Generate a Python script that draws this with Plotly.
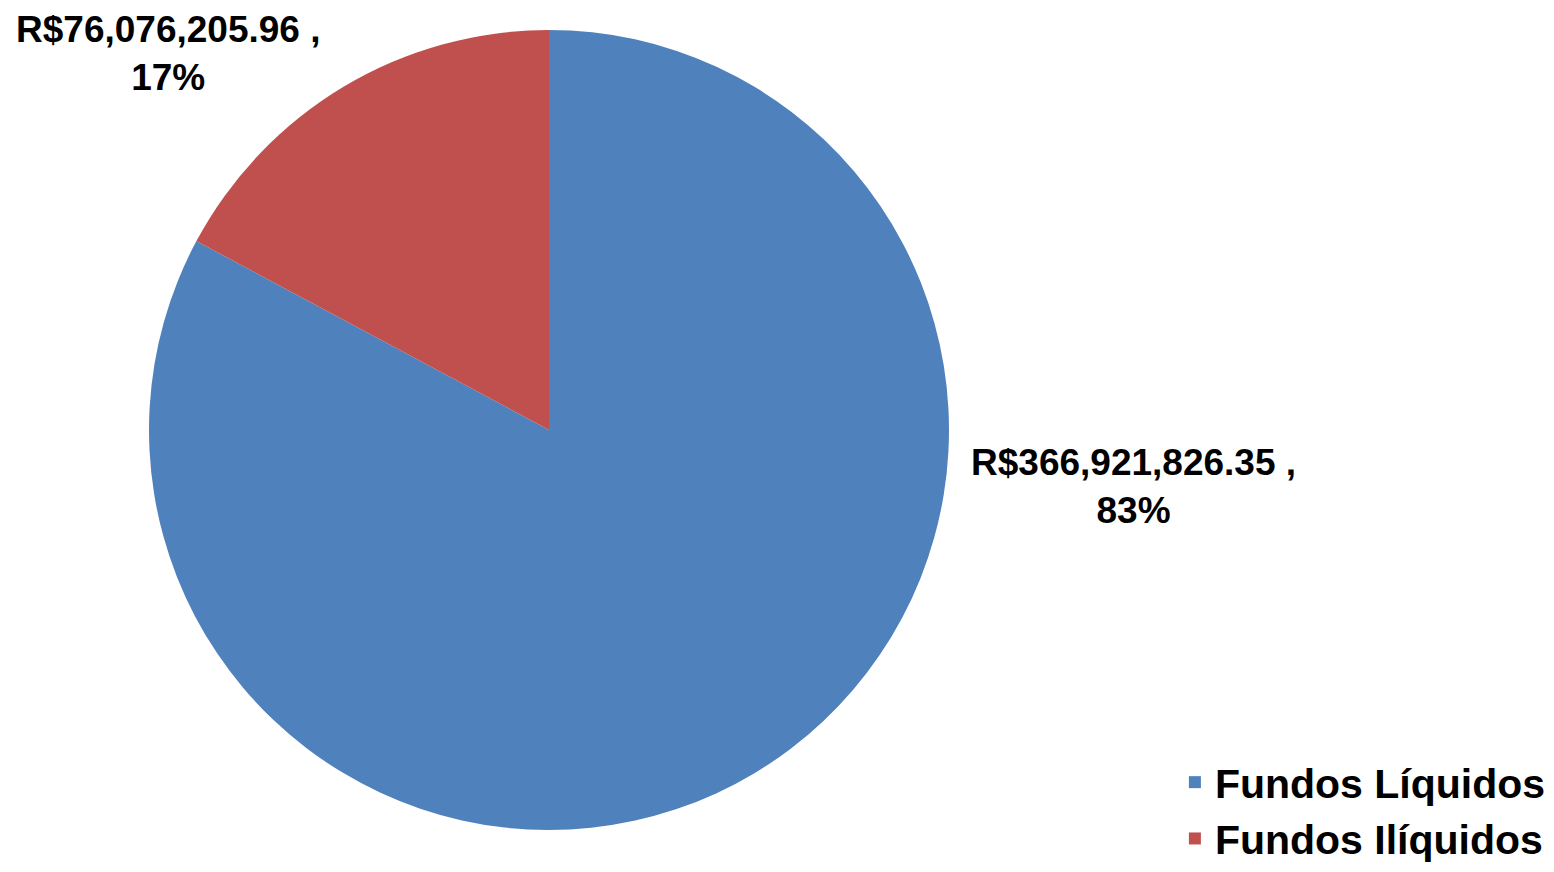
import plotly.graph_objects as go

labels = ["Fundos Líquidos", "Fundos Ilíquidos"]
values = [366921826.35, 76076205.96]
colors = ["#4F81BD", "#C0504D"]

W, H = 1554, 872
total = sum(values)
texts = [f"R${v:,.2f} ,<br>{round(100 * v / total):.0f}%" for v in values]

fig = go.Figure(go.Pie(
    labels=labels, values=values, sort=False, direction="clockwise", rotation=0,
    marker=dict(colors=colors, line=dict(width=0)),
    textinfo="none", hoverinfo="label+value+percent",
    domain=dict(x=[149 / W, 949 / W], y=[1 - 830 / H, 1 - 30 / H]),
))

# label positions (paper coords) in Excel-like placement
label_pos = [(1133 / W, 1 - 486 / H), (168 / W, 1 - 53 / H)]
for t, (x, y) in zip(texts, label_pos):
    fig.add_annotation(x=x, y=y, xref="paper", yref="paper", text=f"<b>{t}</b>",
                       showarrow=False, xanchor="center", yanchor="middle",
                       font=dict(family="Liberation Sans, Arial", size=37, color="#000000"))

fig.update_layout(
    width=W, height=H,
    margin=dict(l=0, r=0, t=0, b=0),
    paper_bgcolor="white", plot_bgcolor="white",
    showlegend=True,
    legend=dict(x=0.998, y=0.0, xanchor="right", yanchor="bottom",
                font=dict(family="Liberation Sans, Arial", size=41, color="#000000", weight="bold"),
                itemsizing="constant", tracegroupgap=0, bgcolor="rgba(0,0,0,0)"),
)
fig.write_html("out.html", config={"displayModeBar": False},
               post_script="document.body.style.margin='0';document.body.style.overflow='hidden';")
